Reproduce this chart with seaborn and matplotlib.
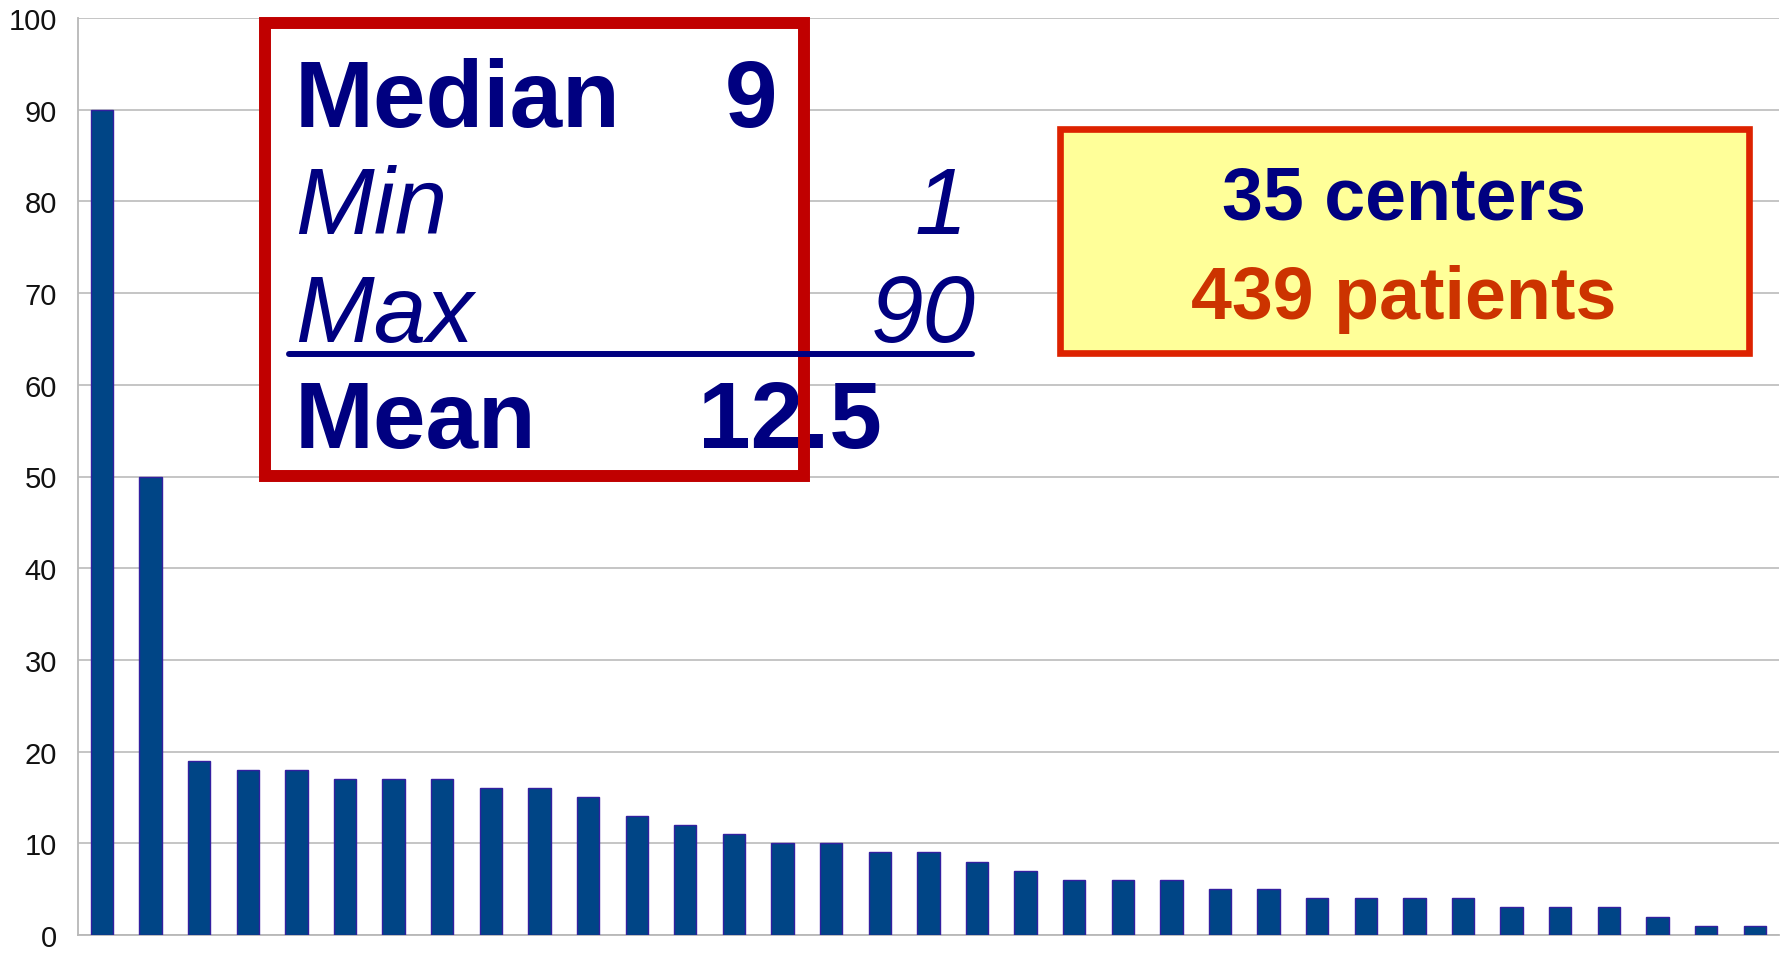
import matplotlib
matplotlib.use("Agg")
import pandas as pd
import seaborn as sns
from matplotlib import pyplot as plt
from matplotlib.patches import Rectangle
from matplotlib.lines import Line2D

# patients per center, sorted
centers = [f"C{i + 1}" for i in range(35)]
patients = [90, 50, 19, 18, 18, 17, 17, 17, 16, 16, 15, 13, 12, 11, 10, 10,
            9, 9, 8, 7, 6, 6, 6, 5, 5, 4, 4, 4, 4, 3, 3, 3, 2, 1, 1]
y_ticks = [0, 10, 20, 30, 40, 50, 60, 70, 80, 90, 100]

stat_labels = ["Median", "Min", "Max", "Mean"]
stat_values = ["9", "1", "90", "12.5"]
summary_lines = ["35 centers", "439 patients"]

W, H = 1780, 954
NAVY = "#000080"

sns.set_style("white")
plt.rcParams["font.family"] = ["Liberation Sans", "DejaVu Sans"]

fig = plt.figure(figsize=(W / 100, H / 100), dpi=100)
ax = fig.add_axes([77.7 / W, (H - 936) / H, (1779 - 77.7) / W, (936 - 19) / H])

df = pd.DataFrame({"center": centers, "patients": patients})
sns.barplot(data=df, x="center", y="patients", color="#004586", width=0.46,
            edgecolor="#3320a0", linewidth=1, saturation=1, ax=ax, zorder=3)

ax.set_xlim(-0.5, len(centers) - 0.5)
ax.set_ylim(0, 100)
ax.set_yticks(y_ticks)
ax.set_xticks([i - 0.5 for i in range(len(centers) + 1)])
ax.set_xticklabels([])
ax.set_xlabel("")
ax.set_ylabel("")
ax.yaxis.grid(True, color="#c0c0c0", linewidth=1.3, zorder=0)
ax.set_axisbelow(True)
ax.tick_params(axis="y", length=7, width=1.2, color="#b8b8b8", pad=8,
               labelsize=21, labelcolor="#111111")
ax.tick_params(axis="x", length=12, width=1.2, color="#b8b8b8")
for side in ["top", "right"]:
    ax.spines[side].set_visible(False)
for side in ["left", "bottom"]:
    ax.spines[side].set_color("#b8b8b8")
    ax.spines[side].set_linewidth(1.3)


def fx(x):
    return x / W


def fy(y):
    return 1 - y / H


# statistics box
fig.patches.append(Rectangle((fx(265), fy(477)), fx(804) - fx(265), fy(24) - fy(477),
                             transform=fig.transFigure, facecolor="white",
                             edgecolor="none", zorder=5))
baselines = [127, 234, 342, 448]
value_right = [777, 967, 976, 882]
for lab, val, yb, xr in zip(stat_labels, stat_values, baselines, value_right):
    bold = lab in ("Median", "Mean")
    fig.text(fx(295), fy(yb), lab, ha="left", va="baseline", color=NAVY,
             fontsize=68, fontweight="bold" if bold else "normal",
             fontstyle="normal" if bold else "italic", zorder=6)
    fig.text(fx(xr), fy(yb), val, ha="right", va="baseline", color=NAVY,
             fontsize=68, fontweight="bold" if bold else "normal",
             fontstyle="normal" if bold else "italic", zorder=6)
fig.patches.append(Rectangle((fx(265), fy(477)), fx(804) - fx(265), fy(24) - fy(477),
                             transform=fig.transFigure, facecolor="none",
                             edgecolor="#c00000", linewidth=8.6, zorder=7))
fig.lines.append(Line2D([fx(289), fx(972)], [fy(355), fy(355)], transform=fig.transFigure,
                        color=NAVY, linewidth=4.3, zorder=8))

# summary box
fig.patches.append(Rectangle((fx(1060), fy(354)), fx(1749) - fx(1060), fy(129.5) - fy(354),
                             transform=fig.transFigure, facecolor="#ffff99",
                             edgecolor="#dd2200", linewidth=4.8, zorder=5))
fig.text(fx(1404), fy(220), summary_lines[0], ha="center", va="baseline",
         color=NAVY, fontsize=53, fontweight="bold", zorder=6)
fig.text(fx(1404), fy(319), summary_lines[1], ha="center", va="baseline",
         color="#cc3300", fontsize=53, fontweight="bold", zorder=6)

fig.savefig("out.png", dpi=100)
